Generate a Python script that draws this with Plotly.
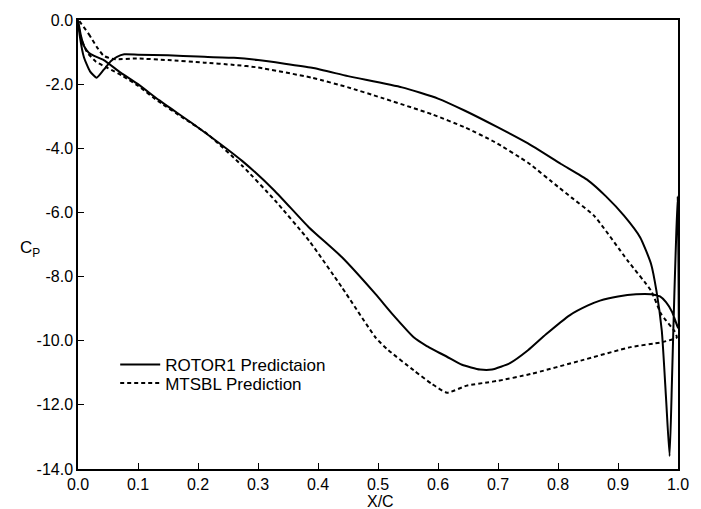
import plotly.graph_objects as go

# ROTOR1 pressure distribution: one closed loop around the section,
# starting at the trailing edge, lower (loaded) branch to the leading edge,
# then the upper branch back out to the trailing edge.
rotor1_x = [1.0, 0.997, 0.99, 0.98, 0.97, 0.955, 0.93, 0.9, 0.87, 0.85,
            0.82, 0.78, 0.75, 0.72, 0.69, 0.67, 0.64, 0.615, 0.58, 0.56,
            0.524, 0.496, 0.44, 0.385, 0.328, 0.274, 0.2, 0.135, 0.1, 0.071,
            0.043, 0.027, 0.018, 0.01, 0.005, 0.0,
            0.003, 0.01, 0.02, 0.031, 0.043, 0.055, 0.065, 0.077, 0.1, 0.15,
            0.2, 0.26, 0.3, 0.39, 0.45, 0.54, 0.6, 0.645, 0.7, 0.75,
            0.805, 0.85, 0.88, 0.91, 0.937, 0.955, 0.964, 0.973, 0.98, 0.986,
            0.99, 0.994, 0.9995, 1.0]
rotor1_cp = [-9.6, -9.45, -9.1, -8.8, -8.62, -8.55, -8.55, -8.62, -8.75, -8.9,
             -9.2, -9.8, -10.3, -10.7, -10.9, -10.9, -10.75, -10.5, -10.15, -9.9,
             -9.17, -8.55, -7.4, -6.47, -5.33, -4.4, -3.35, -2.5, -2.0, -1.64,
             -1.25, -1.12, -1.02, -0.81, -0.5, 0.0,
             -0.5, -1.17, -1.6, -1.8, -1.55, -1.28, -1.15, -1.07, -1.08, -1.1,
             -1.14, -1.18, -1.25, -1.49, -1.75, -2.1, -2.45, -2.83, -3.35, -3.85,
             -4.49, -5.0, -5.5, -6.1, -6.78, -7.6, -8.44, -9.69, -11.77, -13.6,
             -11.2, -8.5, -5.5, -9.6]

# MTSBL pressure distribution: upper branch from the leading edge to the
# trailing edge, then the lower branch back to the leading edge.
mtsbl_x = [0.0, 0.018, 0.032, 0.043, 0.06, 0.098, 0.15, 0.21, 0.26, 0.3,
           0.39, 0.45, 0.505, 0.59, 0.645, 0.694, 0.75, 0.8, 0.822, 0.86,
           0.916, 0.955, 0.972, 0.994, 0.998,
           0.972, 0.921, 0.838, 0.754, 0.7, 0.682, 0.648, 0.615, 0.59, 0.56,
           0.515, 0.496, 0.44, 0.385, 0.328, 0.274, 0.216, 0.175, 0.135, 0.1,
           0.075, 0.05, 0.03, 0.015, 0.005, 0.0]
mtsbl_cp = [0.0, -0.44, -0.86, -1.12, -1.22, -1.2, -1.25, -1.33, -1.4, -1.48,
            -1.8, -2.1, -2.42, -2.94, -3.35, -3.8, -4.45, -5.2, -5.53, -6.1,
            -7.5, -8.44, -9.17, -9.7, -9.9,
            -10.05, -10.2, -10.62, -11.04, -11.25, -11.3, -11.4, -11.62, -11.35, -10.93,
            -10.26, -9.9, -8.34, -6.88, -5.62, -4.55, -3.56, -3.05, -2.55, -2.05,
            -1.75, -1.5, -1.3, -1.0, -0.55, 0.0]

x_ticks = [0.0, 0.1, 0.2, 0.3, 0.4, 0.5, 0.6, 0.7, 0.8, 0.9, 1.0]
y_ticks = [0.0, -2.0, -4.0, -6.0, -8.0, -10.0, -12.0, -14.0]

FONT = "Liberation Sans, Arial, Helvetica, sans-serif"

fig = go.Figure()
fig.add_trace(go.Scatter(
    x=rotor1_x, y=rotor1_cp, mode="lines", name="ROTOR1 Predictaion",
    line=dict(color="black", width=2, shape="spline", smoothing=0.5),
    legend="legend",
))
fig.add_trace(go.Scatter(
    x=mtsbl_x, y=mtsbl_cp, mode="lines", name="MTSBL Prediction",
    line=dict(color="black", width=2, dash="4px,3px", shape="spline", smoothing=0.5),
    legend="legend2",
))

axis_common = dict(
    showgrid=False, zeroline=False,
    showline=True, linecolor="black", linewidth=1.5, mirror=True,
    ticks="inside", ticklen=6, tickwidth=1.2, tickcolor="black",
    tickfont=dict(family=FONT, size=16, color="black"),
)

# each entry gets its own legend box so the two rows can sit close together
legend_common = dict(
    x=0.062, xanchor="left", yanchor="top", itemwidth=40,
    bgcolor="rgba(0,0,0,0)", borderwidth=0,
    font=dict(family=FONT, size=17, color="black"),
)

fig.update_layout(
    width=701, height=509,
    margin=dict(l=78, r=23, t=18, b=40),
    paper_bgcolor="white", plot_bgcolor="white",
    showlegend=True,
    legend=dict(y=0.2716, **legend_common),
    legend2=dict(y=0.2306, **legend_common),
    xaxis=dict(
        range=[0.0, 1.0], tickvals=x_ticks,
        ticktext=[f"{v:.1f}" for v in x_ticks],
        **axis_common,
    ),
    yaxis=dict(
        range=[-14.0, 0.0], tickvals=y_ticks,
        ticktext=[f"{v:.1f}" for v in y_ticks],
        **axis_common,
    ),
    annotations=[
        dict(text="X/C", x=0.504, y=-0.072, xref="paper", yref="paper",
             xanchor="center", yanchor="middle", showarrow=False,
             font=dict(family=FONT, size=16, color="black")),
        dict(text="C<sub>P</sub>", x=-0.1, y=-7.15, xref="paper", yref="y",
             xanchor="left", yanchor="middle", showarrow=False,
             font=dict(family=FONT, size=17, color="black")),
    ],
)

fig.write_html("out.html")
